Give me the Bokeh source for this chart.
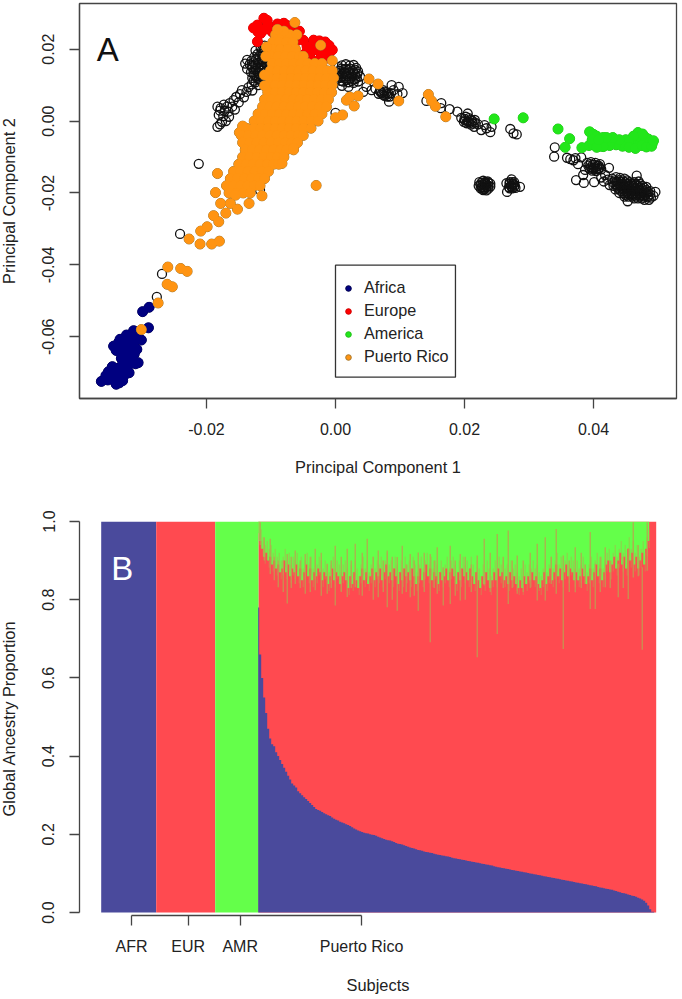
from bokeh.plotting import figure
from bokeh.layouts import column
from bokeh.models import FixedTicker, Legend, LegendItem, Label, NumeralTickFormatter, BoxAnnotation
from bokeh.embed import file_html
from bokeh.resources import INLINE

# ---- Panel A values, in thousandths of a principal-component unit ----
africa = [(-36.3,-72.4),(-34,-73.2),(-35.6,-70.8),(-35,-71.5),(-34.8,-69.5),(-34.2,-70.5),(-33.6,-71.5),(-33,-72.2),
 (-32.8,-70.8),(-33.4,-69.6),(-32.6,-69.2),(-32,-70),(-33.9,-68.8),(-34.6,-68.3),(-31.8,-67.5),(-31,-67.5),(-30.6,-67.2),
 (-31.4,-66.5),(-32,-65.5),(-31.2,-64.8),(-30.8,-63.5),(-31.6,-63.2),(-32.4,-64),(-33.2,-64.5),(-33.4,-63.2),(-34.4,-62.6),
 (-33.6,-61.5),(-32.8,-62),(-32.2,-61),(-31.2,-61.5),(-30.8,-60),(-31.6,-59.8),(-32.4,-59.5),(-33.4,-60.7),(-30.1,-60.9),
 (-31.3,-58.3),(-29,-57.5),(-29.9,-53),(-28.9,-51.8),(-32.5,-66.5),(-33.2,-66),(-32.2,-67),(-33,-67.5),(-32.3,-62.9),
 (-33.6,-62.6),(-34,-63.8),(-33,-65.3),(-32.8,-68.2),(-35.2,-69.7),(-34.3,-72.2),(-33.5,-72.8),(-35.3,-72)]
europe = [(-12.1,26.7),(-11.1,28.6),(-12.1,22.1),(-10.5,26.7),(-11.6,24.4),(-12.7,25.9),(-9,27),(-7.4,26.5),(-9.8,24.8),
 (-6.5,23.9),(-6.2,22),(-4.4,20.7),(-4.6,18.9),(-3.4,22.5),(-1.6,22),(-0.5,19.8),(-2.3,17.5),(-3.4,19.8),(-1,21),(-2.5,22.3),
 (-10.6,28),(-8,27.2),(-5.6,25),(-11,25.5),(-12,24.8),(-1.5,19),(-7,25),(-2.6,19.5),(-5,22.5),(-4,18),(-3,16.5),(-1,17.5),(-2,18.5)]
america = [(24.6,0.6),(29.1,0.9),(34.5,-2.2),(36.3,-4.9),(35.6,-7.3),(38.2,-7.4),(39.4,-3),(40,-3.7),(40.5,-4.2),(39.3,-6.8),
 (39.9,-6.5),(40.5,-6.6),(41.2,-5.8),(42,-5.5),(42.8,-5.3),(43.5,-5.5),(44,-6),(44.6,-6.3),(45.3,-6.5),(46,-7),(46.6,-6.8),
 (47,-5.8),(46.5,-5),(47.3,-4.5),(48,-4.5),(48.5,-5),(48,-6),(48.7,-6),(49.1,-6.3),(41.5,-4.6),(43,-6),(45,-5.2),(45.8,-6),
 (41,-7),(42,-6.5),(39.8,-5.2),(46.9,-3.2),(47.6,-3.6),(46.2,-4.2),(45.5,-5.8),(44.5,-7),(45.5,-7.3),(46.5,-7.6),(43.5,-6.6),
 (42.5,-6.8),(41.5,-7.1),(40.5,-7.3),(47.5,-6.8),(48.2,-7.2),(49,-7),(49.3,-5.5),(44,-5.2),(43,-4.6),(42,-4.6),(40.8,-5.2)]
puerto_rico_rows = {
 24: [-9.3,-8.2,-7.1,-6.0], 22: [-9.7,-8.7,-7.6,-6.6], 20: [-9.8,-8.6,-7.4,-6.2],
 18: [-10,-8.9,-7.8,-6.7,-5.6,-5], 16: [-9.8,-8.7,-7.6,-6.5,-5.4,-4.3,-3.2,-2.1],
 14: [-10.1,-9,-7.9,-6.8,-5.7,-4.6,-3.5,-2.4,-1.3,-0.5], 12: [-10.2,-9.1,-8,-6.9,-5.8,-4.7,-3.6,-2.5,-1.4,-0.3],
 10: [-10.4,-9.3,-8.2,-7.1,-6,-4.9,-3.8,-2.7,-1.6,-0.5], 8: [-10.5,-9.4,-8.3,-7.2,-6.1,-5,-3.9,-2.8,-1.7,-0.6],
 6: [-11,-9.9,-8.8,-7.7,-6.6,-5.5,-4.4,-3.3,-2.2,-1.1], 4: [-11.3,-10.2,-9.1,-8,-6.9,-5.8,-4.7,-3.6,-2.5,-1.4],
 2: [-12,-10.9,-9.8,-8.7,-7.6,-6.5,-5.4,-4.3,-3.2,-2.1], 0: [-12.6,-11.5,-10.4,-9.3,-8.2,-7.1,-6,-4.9,-3.8,-2.7],
 -2: [-13.8,-12.7,-11.6,-10.5,-9.4,-8.3,-7.2,-6.1,-5,-3.8], -4: [-14.6,-13.5,-12.4,-11.3,-10.2,-9.1,-8,-6.9,-5.8,-5],
 -6: [-14.4,-13.3,-12.2,-11.1,-10,-8.9,-7.8,-6.8,-5.9], -8: [-14,-12.9,-11.8,-10.7,-9.6,-8.5,-7.6,-6.5],
 -10: [-14.4,-13.3,-12.2,-11.1,-10,-9,-8], -12: [-15,-13.9,-12.8,-11.7,-10.6,-9.6,-8.8], -14: [-15.8,-14.7,-13.6,-12.5,-11.4,-10.4],
 -16: [-16.3,-15.2,-14.1,-13,-11.9,-11], -18: [-16.9,-15.8,-14.7,-13.6,-12.6,-11.7], -20: [-16.5,-15.4,-14.3,-13.2],
}
puerto_rico_extra = [(-30.1,-58),(-27.5,-50.6),(-26.1,-45.4),(-25.3,-46.1),(-26,-40.6),(-24,-41),(-23,-41.8),(-21,-34.2),
 (-19.2,-34.2),(-18,-33.4),(-22.7,-32.8),(-20.9,-30.6),(-19.9,-29.4),(-18.9,-26.3),(-18.1,-28),(-17,-25.6),(-15.2,-24.5),
 (-13.4,-22.9),(-17.8,-22.9),(-16.3,-22.9),(-18.6,-19.9),(-18.3,-14.6),(-11.4,-20.8),(-8.3,-11.8),(-3,-17.9),(5.2,11.7),
 (6.6,10.3),(3.5,7),(1.7,5.8),(2.2,6.7),(2.9,4.2),(1.1,1.7),(9.8,5.6),(14.4,7.4),(14.9,5.6),(15.5,4.1),(17.1,1.2),(-0.5,16.8),
 (-6.3,27.4),(-2.3,21.1),(-8,25),(-9,25.5),(-10.7,20.6),(-10.8,18),(-11,12.8),(-11,9.8),(0,0.9),(-14.9,-3.2),(-14.4,-1.4),
 (-6.5,-7.5),(-15.5,-20.6)]
reference = [(-21.2,-11.9),(-24.1,-31.4),(-26.9,-42.5),(-27.7,-48.9),(-11.7,-19.2),(0,2.3),
 (-11,21),(-10.6,20),(-11.6,20.3),(-12.4,19.6),(-11.2,19),(-10.4,18.2),(-11.8,18.2),(-12.6,17.8),(-11,17.4),(-12,16.9),
 (-13,16.8),(-13.7,17),(-14,16),(-13.3,15.8),(-12.4,15.8),(-11.5,15.8),(-10.8,16),(-11,15),(-12,15),(-12.9,14.9),(-13.7,14.5),
 (-11.4,14),(-12.3,14),(-13.1,13.6),(-10.9,13.5),(-11.8,13),(-12.6,12.8),(-11.2,12.3),(-12.2,12),(-11.6,11.2),(-12.7,11.2),
 (-13,10.2),(-12,10),(-13.5,9.4),(-14.5,8.6),(-13.8,8.1),(-12.9,8.5),(-14.8,7.5),(-15.4,6.7),(-14.2,6.6),(-15.8,5.8),(-15,5.2),
 (-16.4,5),(-16,4),(-16.8,4),(-17.3,4.6),(-17.8,3.6),(-18.3,4),(-17.9,2.9),(-17.2,2.8),(-16.6,2.6),(-18.1,1.7),(-17.4,1.4),
 (-16.5,1.2),(-17.6,-0.2),(-18.3,-1.6),(-17.9,-0.9),(-17,0),(-15.6,3.2),
 (0.5,15),(1,15.5),(1.6,15.8),(2.2,15.4),(2.8,15.6),(3.2,14.8),(0.6,14),(1.3,14.3),(2,14.2),(2.7,14),(3.5,13.8),(0.4,13),(1,13),
 (1.7,13),(2.4,13),(3.1,12.8),(3.8,12.4),(0.8,12),(1.5,12),(2.2,11.8),(3,11.6),(1.2,11),(2,10.8),(2.8,10.6),(3.5,11),(0.2,11.8),
 (1,9.8),(2,9.5),(4.3,8.1),(5.6,8.6),(4.8,9.5),(6.2,9),(6.9,8.4),(7.4,8.6),(7.9,8),(7.2,7.7),(8,7.4),(8.6,7.8),(6.7,7.6),(7.6,7),
 (8.4,6.8),(8.7,10),(9.8,9.5),(10.4,7.8),(9.6,7.5),(8.3,5.4),(9,8.6),(14.1,5.6),(16.4,5),(16.3,3.6),(17.7,3.3),(18.9,2.6),(20.5,2.1),
 (19.5,0.9),(20.1,0.2),(20.7,0.8),(21.2,0),(20.3,-0.6),(21,-1),(21.6,-0.4),(22.1,-0.9),(21.5,-1.6),(22.6,-2.5),(23.1,-1.1),(24.2,-1.6),
 (24,-3.1),(23.4,-2),(27.1,-2.2),(27.6,-3.4),(28.1,-3.7),
 (22.3,-17),(22.9,-16.6),(23.6,-16.8),(24,-17.4),(22.2,-18),(22.8,-17.6),(23.4,-17.6),(24,-18.2),(22.5,-18.7),(23.1,-18.4),
 (23.7,-18.8),(22.9,-19.2),(23.4,-19.3),(23.1,-17.2),(26.5,-17.3),(27.3,-16.2),(27,-17),(27.7,-17),(28.6,-18.3),(26.6,-19.7),
 (27.2,-18),(27.8,-17.9),(27.4,-18.7),(26.9,-18.4),(27.9,-18.6),(27.5,-17.5),
 (34,-7.3),(33.9,-9.9),(35.9,-10.2),(36.9,-10.9),(38.1,-10.1),(37.6,-12),(37.3,-16.4),(38.5,-17.2),(40.1,-17),(38.4,-15),(38.7,-13.6),
 (36.4,-10.6),(37.2,-10.3),(39,-11.6),(39.6,-11.4),(40.3,-11.6),(41,-12),(39.2,-12.4),(39.9,-12.2),(40.6,-12.5),(39.4,-13.2),(40,-13),
 (40.7,-13.3),(41.2,-13.4),(39.8,-13.8),(40.4,-13.9),(42.4,-13),(41.8,-15),(41.2,-15.7),(42.2,-16.3),(41.6,-16.8),(46.7,-15.2),
 (42.9,-16),(43.5,-15.6),(44.1,-15.8),(44.8,-16),(43,-17),(43.6,-16.8),(44.2,-16.9),(44.9,-17),(45.6,-17),(46.3,-17),(47,-16.8),
 (42.5,-17.8),(43.1,-18),(43.7,-17.9),(44.3,-18),(45,-18),(45.6,-18),(46.2,-18),(46.9,-18),(47.6,-18),(48.2,-18.3),
 (43.4,-19),(44,-19),(44.6,-19),(45.2,-19),(45.8,-19),(46.4,-19),(47,-19),(47.6,-19),(48.2,-19.2),(48.8,-19.5),(49.6,-19.7),
 (44,-20),(44.6,-20),(45.2,-20),(45.8,-20),(46.4,-20),(47,-20),(47.6,-20),(48.2,-20.2),(48.8,-20.4),(49.3,-20.8),
 (44.8,-21),(45.4,-21),(46,-21),(46.6,-21),(47.2,-21),(47.8,-21),(48.4,-21.2),(48.9,-21.3),(45.3,-22.3),(47.9,-21.9),(48.6,-21.9)]
reference_dense = [(-10.7,19.4),(-11.4,19.6),(-10.9,18.6),(-11.5,18.7),(-12.1,18.6),(-10.6,17.7),(-11.4,17.1),(-12.3,17.2),(-10.6,16.7),
 (-11.2,16.4),(-11.9,16.3),(-12.7,16.3),(-10.4,15.4),(-11.4,15.2),(-12.4,14.6),(-11.7,14.5),(-13,15.4),(-10.6,14.2),(-11,13.4),(-12,13.5),
 (-12.7,13.5),(-11.5,12.6),(-12.3,12.5),(-11.9,11.7),(-12.9,12),(-12.4,10.8),
 (0.9,14.6),(1.6,14.6),(2.3,14.6),(3,14.3),(0.7,13.5),(1.4,13.5),(2.1,13.5),(2.8,13.4),(3.4,13.2),(1.1,12.5),(1.8,12.5),(2.6,12.4),(3.3,12),
 (0.5,12.4),(1.7,11.4),(2.5,11.2),(0.8,11.2),(7,8),(7.6,8.2),(8.2,7.7),(7.4,7.3),(8,6.8),
 (20,0.6),(20.5,0),(21,0.4),(20.7,-0.3),(21.3,-0.7),(19.9,-0.2),(20.2,1.2),(21.6,0.3),
 (22.6,-17.2),(23.2,-16.9),(23.7,-17.2),(22.5,-17.8),(23.1,-17.8),(23.7,-18),(22.7,-18.4),(23.4,-18.3),(23.1,-18.9),(22.8,-18.8),(23.3,-17.4),
 (27,-17.5),(27.6,-17.5),(27.3,-18.2),(27.7,-18.3),(27,-18.7),(27.4,-17),
 (39.5,-12),(40.2,-12.2),(40.8,-12.4),(39.6,-12.8),(40.3,-12.8),(40.9,-13),(39.8,-13.3),(40.4,-13.4),
 (43.3,-16.5),(43.9,-16.4),(44.5,-16.5),(45.2,-16.5),(43.4,-17.5),(44,-17.5),(44.6,-17.5),(45.3,-17.5),(46,-17.5),(46.6,-17.5),(47.2,-17.5),
 (43.7,-18.5),(44.3,-18.5),(44.9,-18.5),(45.5,-18.5),(46.1,-18.5),(46.7,-18.5),(47.3,-18.5),(47.9,-18.6),(44.3,-19.5),(44.9,-19.5),(45.5,-19.5),
 (46.1,-19.5),(46.7,-19.5),(47.3,-19.5),(47.9,-19.6),(48.5,-19.8),(44.9,-20.5),(45.5,-20.5),(46.1,-20.5),(46.7,-20.5),(47.3,-20.5),(47.9,-20.7),
 (48.5,-20.8),(46.3,-21.5),(46.9,-21.5),(47.5,-21.5)]
legend_labels = ["Africa", "Europe", "America", "Puerto Rico"]

# ---- Panel B values: one entry per two Puerto Rican subjects (sorted by African share) ----
group_names = ["AFR", "EUR", "AMR"]
group_sizes = [55, 59, 43]
pr_size = 398
pr_afr = [.78,.66,.60,.55,.51,.47,.445,.43,.425,.41,.40,.39,.38,.37,.36,.35,.34,.33,.325,.32,
 .31,.305,.30,.295,.29,.285,.28,.275,.27,.265,.262,.26,.257,.254,.251,.249,.247,.243,.24,.237,
 .235,.232,.23,.228,.226,.224,.221,.218,.215,.212,.21,.208,.206,.204,.203,.202,.2,.199,.198,.196,
 .194,.192,.19,.188,.186,.185,.184,.182,.18,.178,.176,.175,.174,.172,.17,.168,.166,.165,.164,.162,
 .16,.159,.158,.156,.155,.154,.153,.152,.15,.149,.148,.147,.146,.145,.144,.143,.142,.14,.139,.138,
 .137,.136,.135,.134,.133,.132,.131,.13,.129,.128,.127,.126,.125,.124,.123,.122,.121,.12,.118,.117,
 .116,.115,.114,.113,.112,.111,.11,.109,.108,.107,.106,.105,.104,.103,.102,.101,.1,.099,.098,.097,
 .096,.095,.094,.093,.092,.091,.09,.089,.088,.087,.086,.085,.084,.083,.082,.081,.08,.079,.078,.077,
 .076,.075,.074,.073,.072,.071,.07,.069,.068,.067,.065,.064,.063,.062,.061,.06,.059,.058,.056,.055,
 .053,.052,.05,.049,.048,.046,.045,.043,.042,.04,.038,.036,.033,.03,.025,.018,.008,.002,0]
pr_afr_eur = [.97,.95,.93,.91,.92,.90,.91,.89,.90,.88,.89,.87,.88,.90,.87,.89,.86,.88,.87,.89,
 .86,.88,.85,.87,.89,.86,.88,.85,.87,.86,.88,.87,.85,.87,.86,.84,.86,.88,.85,.87,
 .86,.84,.86,.87,.85,.83,.86,.84,.87,.85,.83,.86,.88,.85,.87,.84,.86,.88,.85,.87,
 .86,.88,.85,.87,.89,.86,.87,.85,.88,.86,.84,.87,.85,.88,.86,.87,.85,.88,.86,.84,
 .86,.88,.85,.87,.89,.86,.88,.85,.87,.86,.84,.87,.85,.86,.88,.85,.87,.88,.86,.84,
 .87,.85,.88,.86,.87,.85,.88,.86,.84,.87,.85,.83,.86,.84,.87,.85,.83,.85,.87,.85,
 .88,.86,.87,.85,.86,.84,.87,.85,.86,.84,.83,.85,.83,.86,.84,.86,.85,.87,.85,.86,
 .84,.83,.85,.87,.84,.86,.88,.85,.87,.89,.86,.88,.85,.87,.89,.86,.88,.87,.85,.87,
 .85,.86,.88,.86,.84,.86,.88,.85,.87,.89,.86,.88,.85,.87,.89,.90,.87,.89,.91,.88,
 .90,.92,.89,.91,.88,.93,.90,.92,.89,.91,.88,.90,.92,.89,.93,.95,1,1,1]
spike_pos = [2,12,20,29,37,47,57,69,77,89,97,109,120,129,139,144,152,160,172,179,185,192,202,219,226,239,250,259,279,287,298,305,317,332,337,347,360,370,375,384,389,
 6,16,25,33,42,52,63,73,83,93,104,115,125,134,148,156,166,176,197,207,213,232,245,254,265,272,293,311,323,327,342,352,365,380]
spike_low = [.94,.866,.832,.79,.84,.815,.824,.815,.785,.807,.832,.857,.806,.781,.772,.815,.806,.772,.691,.815,.785,.789,.798,.653,.836,.712,.789,.815,.798,.798,.815,.674,.819,.776,.776,.832,.806,.802,.857,.672,.874,
 .90,.85,.82,.83,.83,.82,.81,.83,.82,.83,.81,.80,.82,.80,.82,.81,.82,.83,.81,.80,.82,.82,.83,.83,.82,.83,.84,.82,.83,.84,.82,.83,.83,.86]
spike_high = [.998,.956,.90,.917,.926,.917,.93,.892,.938,.93,.943,.956,.926,.926,.909,.938,.917,.921,.917,.934,.883,.938,.917,.913,.956,.968,.977,.913,.943,.96,.981,.913,.934,.973,.892,.934,.892,.93,.998,.883,.998,
 .96,.91,.90,.91,.90,.91,.92,.90,.91,.90,.92,.91,.90,.91,.89,.90,.92,.90,.90,.91,.89,.92,.91,.90,.90,.92,.91,.90,.92,.89,.91,.90,.91,.94]
afr_tick, eur_tick, amr_tick, pr_tick = 30.3, 87, 139, 260.3

AXC, TXT = "#444444", "#222222"
FONT = "Liberation Sans"
scale = 1000.0

def xs(pts): return [a/scale for a, b in pts]
def ys(pts): return [b/scale for a, b in pts]
puerto_rico = [(v, k) for k, row in puerto_rico_rows.items() for v in row] + puerto_rico_extra
open_points = reference + reference_dense

pA = figure(width=685, height=490, output_backend="svg", toolbar_location=None,
            x_range=(-0.03969, 0.05287), y_range=(-0.07716, 0.0327),
            min_border_left=84, min_border_right=4, min_border_top=3, min_border_bottom=92)
pB = figure(width=685, height=509, output_backend="svg", toolbar_location=None,
            x_range=(-21.7, 575.3), y_range=(-0.00767, 1.0),
            min_border_left=84, min_border_right=4, min_border_top=31, min_border_bottom=84)

for p in (pA, pB):
    p.grid.visible = False
    p.axis.minor_tick_line_color = None
    p.axis.major_tick_in = 0
    p.axis.major_tick_out = 10
    p.axis.axis_line_color = AXC
    p.axis.major_tick_line_color = AXC
    p.axis.axis_line_width = 1.3
    p.axis.major_tick_line_width = 1.3
    p.axis.major_label_text_font = FONT
    p.axis.major_label_text_font_size = "16px"
    p.axis.major_label_text_color = TXT
    p.axis.axis_label_text_font = FONT
    p.axis.axis_label_text_font_size = "16.4px"
    p.axis.axis_label_text_font_style = "normal"
    p.axis.axis_label_text_color = TXT
    p.yaxis.major_label_orientation = "vertical"
    p.background_fill_color = "white"

# Panel A
pA.outline_line_color = AXC
pA.outline_line_width = 1.3
pA.xaxis.ticker = FixedTicker(ticks=[-0.02, 0.0, 0.02, 0.04])
pA.yaxis.ticker = FixedTicker(ticks=[-0.06, -0.04, -0.02, 0.0, 0.02])
pA.axis.formatter = NumeralTickFormatter(format="0.00")
pA.xaxis.axis_label = "Principal Component 1"
pA.yaxis.axis_label = "Principal Component 2"
pA.xaxis.major_label_standoff = 14
pA.xaxis.axis_label_standoff = 20
pA.yaxis.major_label_standoff = 15
pA.yaxis.axis_label_standoff = 22

pA.scatter(xs(open_points), ys(open_points), size=9, fill_color=None, line_color="#111111", line_width=1.3)
def group(pts, fill, edge):
    r = pA.scatter(xs(pts), ys(pts), size=10, fill_color=fill, line_color=edge, line_width=1)
    pA.scatter(xs(pts), ys(pts), size=10, fill_color=fill, line_color=None)
    return r
r_eur = group(europe, "#FF0000", "#D00000")
r_amr = group(america, "#22E61A", "#22C01A")
r_afr = group(africa, "#000080", "#000050")
r_pr = group(puerto_rico, "#FF9412", "#A87A30")

pA.add_layout(BoxAnnotation(left=0, right=0.0186, top=-0.04007, bottom=-0.07123,
                            fill_color="white", fill_alpha=1, line_color="#333333", line_alpha=1, line_width=1.3, level="annotation"))
leg = Legend(items=[LegendItem(label=t, renderers=[r]) for t, r in zip(legend_labels, [r_afr, r_eur, r_amr, r_pr])],
             location=(262, 32), border_line_color=None, background_fill_alpha=0,
             label_text_font=FONT, label_text_font_size="16.2px", label_text_color=TXT,
             glyph_width=14, glyph_height=18, label_height=18, spacing=4, padding=7, margin=0, label_standoff=9)
pA.add_layout(leg, "center")
pA.add_layout(Label(x=-0.0370, y=0.0148, text="A", text_font=FONT, text_font_size="33px", text_color="#111111"))

# Panel B
pB.outline_line_color = None
pB.xaxis.ticker = FixedTicker(ticks=[afr_tick, eur_tick, amr_tick, pr_tick])
pB.xaxis.major_label_overrides = {afr_tick: "AFR", eur_tick: "EUR", amr_tick: "AMR", pr_tick: "Puerto Rico"}
pB.xaxis.bounds = (afr_tick, pr_tick)
pB.yaxis.ticker = FixedTicker(ticks=[0, 0.2, 0.4, 0.6, 0.8, 1.0])
pB.yaxis.formatter = NumeralTickFormatter(format="0.0")
pB.yaxis.bounds = (0, 1)
pB.xaxis.axis_label = "Subjects"
pB.yaxis.axis_label = "Global Ancestry Proportion"
pB.xaxis.major_label_standoff = 12
pB.xaxis.axis_label_standoff = 18
pB.yaxis.major_label_standoff = 15
pB.yaxis.axis_label_standoff = 22

BLUE, RED, GREEN, OLIVE = "#4A4A9C", "#FF4A50", "#64FF4A", "#BDA050"
left = 0
for i, (size, c) in enumerate(zip(group_sizes, [BLUE, RED, GREEN])):
    pB.vbar(x=left + size/2 + 0.25*(i == 2), width=size + 0.5*(i == 2), bottom=0, top=1, fill_color=c, line_color=None)
    left += size
pB.vbar(x=left + 0.5 + (pr_size - 0.5)/2, width=pr_size - 0.5, bottom=0, top=1, fill_color=RED, line_color=None)
centres = [left + 2*i for i in range(len(pr_afr) - 1)] + [left + pr_size]
ones = [1.0 for v in pr_afr]
zeros = [0.0 for v in pr_afr]
pB.varea_step(x=centres, y1=pr_afr_eur, y2=ones, step_mode="center", fill_color=GREEN)
pB.varea_step(x=centres, y1=zeros, y2=pr_afr, step_mode="center", fill_color=BLUE)
fringe_x = [c + 1 for c in centres[:-3]]
fringe_low = [v - 0.018 for v in pr_afr_eur[:-3]]
fringe_high = [v + 0.03 for v in pr_afr_eur[:-3]]
pB.segment(x0=fringe_x, x1=fringe_x, y0=fringe_low, y1=fringe_high, line_color=OLIVE, line_width=1, line_alpha=0.55)
pB.segment(x0=[left + s for s in spike_pos], x1=[left + s for s in spike_pos], y0=spike_low, y1=spike_high,
           line_color=OLIVE, line_width=1.1)
pB.add_layout(Label(x=10, y=0.833, text="B", text_font=FONT, text_font_size="33px", text_color="white"))

page = column(pA, pB, margin=(0, 0, 0, -5), spacing=0)
open("out.html", "w").write(file_html(page, INLINE))
